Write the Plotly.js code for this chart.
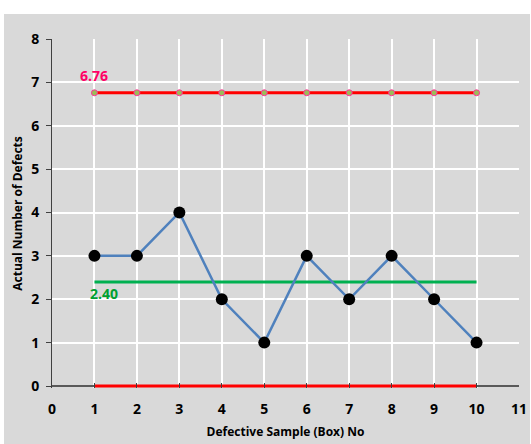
<!DOCTYPE html>
<html><head><meta charset="utf-8">
<script src="https://cdn.plot.ly/plotly-3.0.1.min.js"></script>
<style>html,body{margin:0;padding:0;background:#fff}</style>
</head><body><div id="chart" style="width:531px;height:444px"></div>
<script>
var samples = [1,2,3,4,5,6,7,8,9,10];
var defects = [3,3,4,2,1,3,2,3,2,1];
var ucl = [6.76,6.76,6.76,6.76,6.76,6.76,6.76,6.76,6.76,6.76];
var centerLine = [2.40,2.40,2.40,2.40,2.40,2.40,2.40,2.40,2.40,2.40];
var lcl = [0,0,0,0,0,0,0,0,0,0];
var xTicks = [0,1,2,3,4,5,6,7,8,9,10,11];
var yTicks = [0,1,2,3,4,5,6,7,8];

var FONT = '"Open Sans", "Noto Sans", sans-serif';
var traces = [
  {x: samples, y: lcl, mode: 'lines', line: {color: '#ff0000', width: 3}, cliponaxis: false},
  {x: samples, y: centerLine, mode: 'lines', line: {color: '#00b050', width: 3}, cliponaxis: false},
  {x: samples, y: ucl, mode: 'lines+markers', line: {color: '#ff0000', width: 3},
   marker: {size: 6, color: '#9bbb59', line: {color: '#ff3399', width: 1}}, cliponaxis: false},
  {x: samples, y: defects, mode: 'lines+markers', line: {color: '#4f81bd', width: 2.5},
   marker: {size: 12, color: '#000000'}, cliponaxis: false}
];

var pad = 2 / 43.375;
var layout = {
  width: 531, height: 444,
  margin: {l: 52, r: 12, t: 39, b: 56},
  paper_bgcolor: '#ffffff',
  plot_bgcolor: '#d9d9d9',
  showlegend: false,
  font: {family: FONT, color: '#000'},
  shapes: [{type: 'rect', xref: 'paper', yref: 'paper', layer: 'below',
    x0: -48/467, x1: 1 + 11/467, y0: -56/349, y1: 1 + 25/349,
    fillcolor: '#d9d9d9', line: {width: 0}}],
  xaxis: {range: [0, 11], tickvals: xTicks, ticktext: xTicks.map(String),
    showgrid: true, gridcolor: '#ffffff', gridwidth: 2, zeroline: false,
    showline: false,
    ticks: 'inside', ticklen: 5, tickcolor: '#404040', ticklabelstandoff: 11,
    tickfont: {family: FONT, size: 14, color: '#000', weight: 'bold'},
    title: {text: 'Defective Sample (Box) No', font: {family: FONT, size: 12, color: '#000', weight: 'bold'}, standoff: 10}},
  yaxis: {range: [-pad, 8], tickvals: yTicks, ticktext: yTicks.map(String),
    showgrid: true, gridcolor: '#ffffff', gridwidth: 2,
    zeroline: true, zerolinecolor: '#595959', zerolinewidth: 1.5,
    showline: true, linecolor: '#404040', linewidth: 1,
    ticks: 'outside', ticklen: 5, tickcolor: '#404040', ticklabelstandoff: 4,
    tickfont: {family: FONT, size: 14, color: '#000', weight: 'bold'},
    title: {text: 'Actual Number of Defects', font: {family: FONT, size: 12, color: '#000', weight: 'bold'}, standoff: 5}},
  annotations: [
    {x: samples[0], y: ucl[0], xref: 'x', yref: 'y', text: ucl[0].toFixed(2),
     showarrow: false, yshift: 17, font: {family: FONT, size: 14, color: '#ff0066', weight: 'bold'}},
    {x: samples[0], y: centerLine[0], xref: 'x', yref: 'y', text: centerLine[0].toFixed(2),
     showarrow: false, yshift: -12, xshift: 10, font: {family: FONT, size: 14, color: '#00a030', weight: 'bold'}}
  ]
};
Plotly.newPlot('chart', traces, layout, {displayModeBar: false, staticPlot: true});
</script></body></html>
